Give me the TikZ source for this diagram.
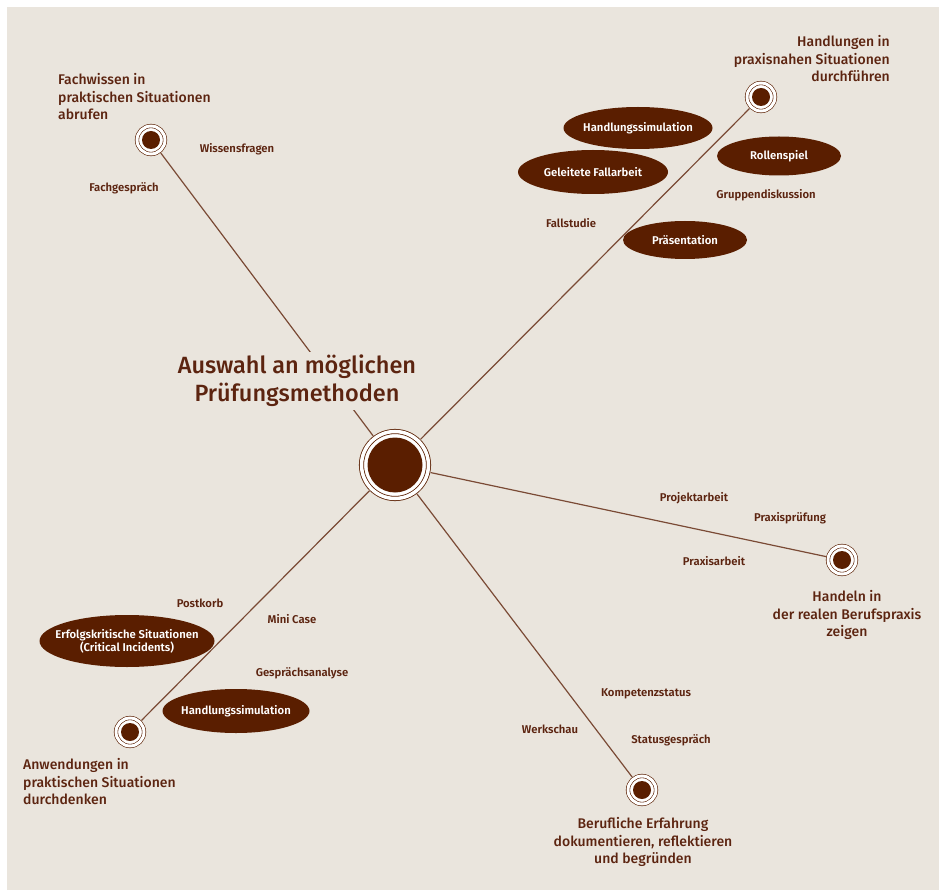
\documentclass[tikz,border=0pt]{standalone}
\usepackage{fontspec}
\setmainfont{Fira Sans}
\newfontfamily\mediumface{Fira Sans Medium}
\newfontfamily\semiface{Fira Sans SemiBold}
\usepackage{tikz}
\usetikzlibrary{positioning,shapes.geometric}
\definecolor{paper}{HTML}{EAE5DD}
\definecolor{umber}{HTML}{5A1E00}
\definecolor{ink}{HTML}{5C2410}
\definecolor{spokecol}{HTML}{7A4A35}
\tikzset{
    hub/.style={circle, fill=white, draw=umber, line width=0.6pt, double=white, double distance=3pt, minimum size=28pt, inner sep=0pt, path picture={\fill[umber] (path picture bounding box.center) circle (9pt);}},
    bighub/.style={circle, fill=white, draw=umber, line width=0.8pt, double=white, double distance=3.5pt, minimum size=67pt, inner sep=0pt, path picture={\fill[umber] (path picture bounding box.center) circle (27.5pt);}},
    spoke/.style={draw=spokecol, line width=1.2pt, shorten <=2.5pt, shorten >=2pt},
    pill/.style={ellipse, fill=umber, text=white, inner xsep=-15pt, inner ysep=-2pt, align=center, font=\semiface\fontsize{11.3}{13}\selectfont},
    method/.style={text=ink, inner sep=0pt, font=\semiface\fontsize{11.3}{13}\selectfont},
    goal/.style={text=ink, inner sep=0pt, font=\mediumface\fontsize{14}{17.5}\selectfont},
    headline/.style={text=ink, align=center, fill=paper, inner sep=3pt, font=\mediumface\fontsize{23.5}{28}\selectfont}
}
\begin{document}
\begin{tikzpicture}[x=1pt, y=-1pt]

% Paper
\useasboundingbox (0,0) rectangle (939,890);
\fill[paper] (7,7) rectangle (939,890);

% Hubs
\node[bighub] (centre) at (395,465) {};
\node[hub] (fach) at (151,140) {};
\node[hub] (handl) at (761,97) {};
\node[hub] (anw) at (130,732) {};
\node[hub] (real) at (842,560) {};
\node[hub] (beruf) at (642,790) {};

% Spokes
\draw[spoke] (centre) -- (fach);
\draw[spoke] (centre) -- (handl);
\draw[spoke] (centre) -- (anw);
\draw[spoke] (centre) -- (real);
\draw[spoke] (centre) -- (beruf);

% Title
\node[headline] (title) at (297,381) {Auswahl an möglichen\\Prüfungsmethoden};

% Goals
\node[goal, align=left, anchor=west] (gfach) at (58,97) {Fachwissen in\\praktischen Situationen\\abrufen};
\node[goal, align=right, anchor=east] (ghandl) at (890,59) {Handlungen in\\praxisnahen Situationen\\durchführen};
\node[goal, align=left, anchor=west] (ganw) at (23,782) {Anwendungen in\\praktischen Situationen\\durchdenken};
\node[goal, align=center] (greal) at (847,615) {Handeln in\\der realen Berufspraxis\\zeigen};
\node[goal, align=center] (gberuf) at (643,842) {Berufliche Erfahrung\\dokumentieren, reflektieren\\und begründen};

% Methods in ovals
\node[pill, minimum width=149, minimum height=42] (simtop) at (638,128) {Handlungssimulation};
\node[pill, minimum width=150, minimum height=44] (fallarb) at (593,172) {Geleitete Fallarbeit};
\node[pill, minimum width=124, minimum height=39] (rolle) at (779,156) {Rollenspiel};
\node[pill, minimum width=124, minimum height=38] (praes) at (685,240) {Präsentation};
\node[pill, minimum width=175, minimum height=52] (crit) at (127,641) {Erfolgskritische Situationen\\(Critical Incidents)};
\node[pill, minimum width=147, minimum height=44] (simbot) at (236,711) {Handlungssimulation};

% Methods as plain text
\node[method] (wissen) at (237,149) {Wissensfragen};
\node[method] (fachg) at (124,188) {Fachgespräch};
\node[method] (gruppe) at (766,195) {Gruppendiskussion};
\node[method] (fallst) at (571,223) {Fallstudie};
\node[method] (projekt) at (694,498) {Projektarbeit};
\node[method] (prpruef) at (790,518) {Praxisprüfung};
\node[method] (prarb) at (714,561) {Praxisarbeit};
\node[method] (post) at (200,603) {Postkorb};
\node[method] (mini) at (292,619) {Mini Case};
\node[method] (gespr) at (302,673) {Gesprächsanalyse};
\node[method] (kompet) at (646,694) {Kompetenzstatus};
\node[method] (werk) at (550,729) {Werkschau};
\node[method] (status) at (671,740) {Statusgespräch};

\end{tikzpicture}
\end{document}
